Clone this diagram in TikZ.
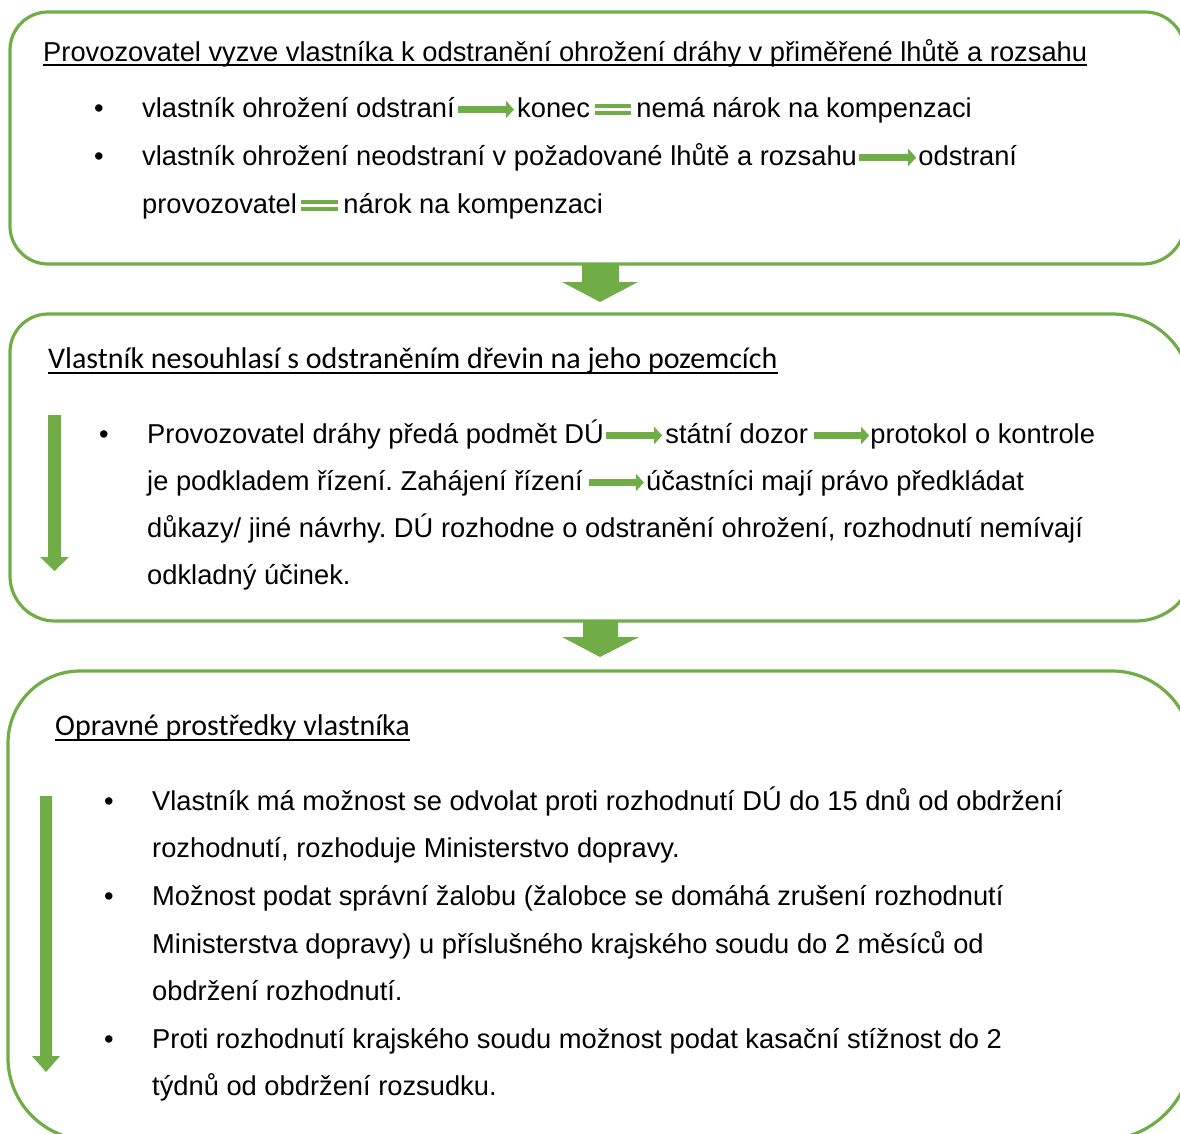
\documentclass[tikz,border=0pt]{standalone}
\usepackage{fontspec}
\setmainfont{Liberation Sans}
\newfontfamily\calib{Carlito}
\usetikzlibrary{arrows.meta}
\definecolor{grn}{HTML}{70AD47}
\frenchspacing
\begin{document}
\begin{tikzpicture}[x=1pt,y=-1pt,
  txt/.style={inner sep=0pt, anchor=base west, font=\fontsize{27.3}{32}\selectfont\frenchspacing},
  bul/.style={inner sep=0pt, anchor=base, font=\fontsize{27.3}{32}\selectfont},
  ttlA/.style={inner sep=0pt, anchor=base west, font=\fontsize{27.3}{32}\selectfont},
  ttlC/.style={inner sep=0pt, anchor=base west, font=\calib\fontsize{30}{36}\selectfont},
  boxline/.style={draw=grn, line width=3.2pt},
  inarr/.style={draw=grn, line width=6.5pt, -{Triangle[length=8pt,width=17pt]}},
  eqbar/.style={draw=grn, line width=4.2pt},
  blockarr/.style={fill=grn},
  uline/.style={draw=black, line width=1.6pt}
]
\useasboundingbox (0,0) rectangle (1180,1133);
\fill[white] (0,0) rectangle (1180,1133);
\begin{scope}
\clip (0,0) rectangle (1180,1133);
% box 1
\draw[boxline] (48,12) -- (1145,12) .. controls (1167.1,12) and (1185,29.9) .. (1185,52)
  -- (1185,222) .. controls (1185,245.2) and (1166.2,264) .. (1143,264)
  -- (48,264) .. controls (27,264) and (10,247) .. (10,226)
  -- (10,50) .. controls (10,29) and (27,12) .. (48,12) -- cycle;
% box 2
\draw[boxline] (48,314) -- (1112,314) .. controls (1156.2,314) and (1192,349.8) .. (1192,394)
  -- (1192,570) .. controls (1192,598.7) and (1166,621) .. (1136,621)
  -- (55,621) .. controls (30.2,621) and (10,600.8) .. (10,576)
  -- (10,352) .. controls (10,331) and (27,314) .. (48,314) -- cycle;
% box 3
\draw[boxline] (80,671) -- (1112,671) .. controls (1156.2,671) and (1192,706.8) .. (1192,751)
  -- (1192,1050) .. controls (1192,1099.7) and (1151.7,1140) .. (1102,1140)
  -- (90,1140) .. controls (44.7,1140) and (8,1103.3) .. (8,1058)
  -- (8,743) .. controls (8,703.3) and (40.3,671) .. (80,671) -- cycle;
\end{scope}
% block arrows between boxes
\fill[blockarr] (582,264) -- (619,264) -- (619,282) -- (638,282) -- (600,302) -- (562,282) -- (582,282) -- cycle;
\fill[blockarr] (583,622) -- (618,622) -- (618,637) -- (639,637) -- (600,657) -- (562,637) -- (583,637) -- cycle;
% vertical arrows inside boxes
\fill[blockarr] (48,415) -- (61,415) -- (61,557) -- (69,557) -- (54.5,571) -- (40,557) -- (48,557) -- cycle;
\fill[blockarr] (40,796) -- (52,796) -- (52,1056) -- (60,1056) -- (46,1072) -- (32,1056) -- (40,1056) -- cycle;

% ---------- box 1 text
\node[ttlA] (t1) at (43,61) {Provozovatel vyzve vlastníka k odstranění ohrožení dráhy v přiměřené lhůtě a rozsahu};
\draw[uline] ([yshift=-4pt]t1.base west) -- ([yshift=-4pt]t1.base east);

\node[bul] (b11) at (99,117) {•};
\node[txt] (l1a) at (142,117) {vlastník ohrožení odstraní};
\node[txt] (l1b) at ([xshift=62pt]l1a.base east) {konec};
\node[txt] (l1c) at ([xshift=46pt]l1b.base east) {nemá nárok na kompenzaci};
\draw[inarr] ([xshift=3pt,yshift=7.5pt]l1a.base east) -- ([xshift=-3pt,yshift=7.5pt]l1b.base west);
\draw[eqbar] ([xshift=5pt,yshift=4.2pt]l1b.base east) -- ([xshift=-5pt,yshift=4.2pt]l1c.base west);
\draw[eqbar] ([xshift=5pt,yshift=11.4pt]l1b.base east) -- ([xshift=-5pt,yshift=11.4pt]l1c.base west);

\node[bul] (b12) at (99,165) {•};
\node[txt] (l2a) at (142,165) {vlastník ohrožení neodstraní v požadované lhůtě a rozsahu};
\node[txt] (l2b) at ([xshift=61pt]l2a.base east) {odstraní};
\draw[inarr] ([xshift=2pt,yshift=7.5pt]l2a.base east) -- ([xshift=-2pt,yshift=7.5pt]l2b.base west);

\node[txt] (l3a) at (142,213) {provozovatel};
\node[txt] (l3b) at ([xshift=46pt]l3a.base east) {nárok na kompenzaci};
\draw[eqbar] ([xshift=4pt,yshift=4.2pt]l3a.base east) -- ([xshift=-5pt,yshift=4.2pt]l3b.base west);
\draw[eqbar] ([xshift=4pt,yshift=11.4pt]l3a.base east) -- ([xshift=-5pt,yshift=11.4pt]l3b.base west);

% ---------- box 2 text
\node[ttlC] (t2) at (48,368) {Vlastník nesouhlasí s odstraněním dřevin na jeho pozemcích};
\draw[uline] ([yshift=-5pt]t2.base west) -- ([yshift=-5pt]t2.base east);

\node[bul] (b21) at (104,443) {•};
\node[txt] (m1a) at (147,443) {Provozovatel dráhy předá podmět DÚ};
\node[txt] (m1b) at ([xshift=61pt]m1a.base east) {státní dozor};
\node[txt] (m1c) at ([xshift=62pt]m1b.base east) {protokol o kontrole};
\draw[inarr] ([xshift=2pt,yshift=7.5pt]m1a.base east) -- ([xshift=-3pt,yshift=7.5pt]m1b.base west);
\draw[inarr] ([xshift=6pt,yshift=7.5pt]m1b.base east) -- ([xshift=-1pt,yshift=7.5pt]m1c.base west);

\node[txt] (m2a) at (147,490) {je podkladem řízení. Zahájení řízení};
\node[txt] (m2b) at ([xshift=63pt]m2a.base east) {účastníci mají právo předkládat};
\draw[inarr] ([xshift=6pt,yshift=7.5pt]m2a.base east) -- ([xshift=-2pt,yshift=7.5pt]m2b.base west);

\node[txt] (m3) at (147,537) {důkazy/ jiné návrhy. DÚ rozhodne o odstranění ohrožení, rozhodnutí nemívají};
\node[txt] (m4) at (147,584) {odkladný účinek.};

% ---------- box 3 text
\node[ttlC] (t3) at (55,735) {Opravné prostředky vlastníka};
\draw[uline] ([yshift=-5pt]t3.base west) -- ([yshift=-5pt]t3.base east);

\node[bul] (b31) at (109,810) {•};
\node[txt] (n1) at (152,810) {Vlastník má možnost se odvolat proti rozhodnutí DÚ do 15 dnů od obdržení};
\node[txt] (n2) at (152,857) {rozhodnutí, rozhoduje Ministerstvo dopravy.};
\node[bul] (b32) at (109,905) {•};
\node[txt] (n3) at (152,905) {Možnost podat správní žalobu (žalobce se domáhá zrušení rozhodnutí};
\node[txt] (n4) at (152,953) {Ministerstva dopravy) u příslušného krajského soudu do 2 měsíců od};
\node[txt] (n5) at (152,1000) {obdržení rozhodnutí.};
\node[bul] (b33) at (109,1048) {•};
\node[txt] (n6) at (152,1048) {Proti rozhodnutí krajského soudu možnost podat kasační stížnost do 2};
\node[txt] (n7) at (152,1095) {týdnů od obdržení rozsudku.};
\end{tikzpicture}
\end{document}
